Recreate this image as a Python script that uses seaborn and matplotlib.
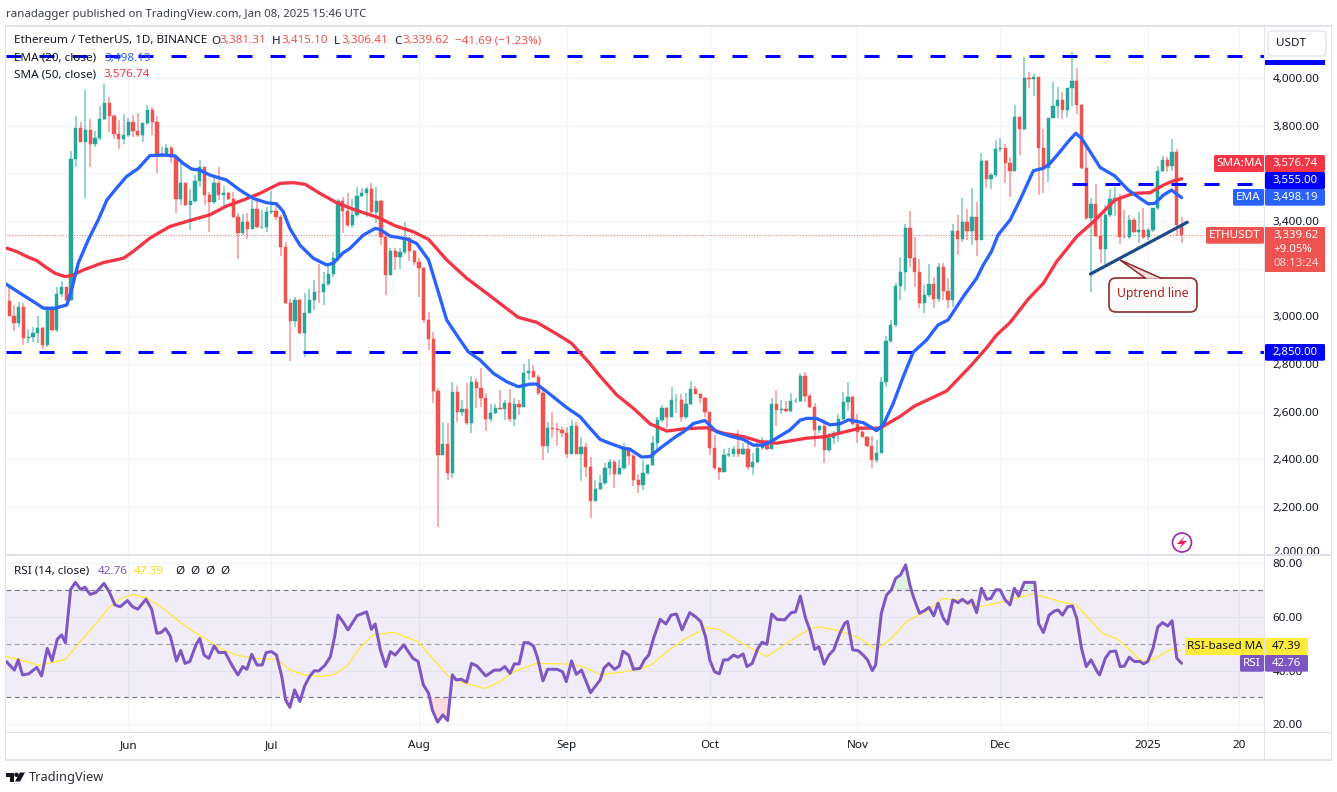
import numpy as np
import pandas as pd
import seaborn as sns
import matplotlib
matplotlib.use("Agg")
import matplotlib.pyplot as plt
from matplotlib.patches import Rectangle, FancyBboxPatch, Polygon, Circle
from matplotlib.transforms import Affine2D

# ---------- data ----------
opens = [3065,3002,2971,3038,2911,2914,2929,2953,2880,3037,2943,3094,3122,3069,3659,3789,3733,3782,3723,3747,
3827,3894,3841,3765,3744,3761,3817,3779,3761,3810,3866,3814,3674,3680,3705,3667,3493,3558,3467,3484,
3568,3625,3509,3481,3561,3509,3516,3491,3415,3351,3394,3367,3449,3374,3375,3439,3442,3416,3293,3055,
2982,3069,2929,3016,3069,3102,3101,3136,3178,3243,3485,3443,3383,3425,3505,3519,3534,3439,3484,3335,
3174,3274,3248,3271,3330,3274,3230,3201,2985,2904,2688,2419,2465,2345,2682,2600,2610,2551,2723,2701,
2659,2570,2593,2614,2612,2635,2570,2631,2621,2761,2771,2744,2680,2456,2530,2527,2525,2512,2423,2540,
2423,2451,2370,2227,2275,2300,2363,2388,2339,2363,2446,2414,2314,2293,2342,2377,2467,2565,2617,2579,
2648,2651,2579,2632,2694,2676,2659,2600,2449,2363,2349,2419,2421,2444,2421,2444,2370,2389,2446,2477,
2442,2631,2607,2610,2604,2645,2646,2750,2667,2619,2524,2540,2440,2489,2510,2568,2641,2661,2547,2517,
2496,2456,2398,2426,2724,2897,2964,3128,3185,3372,3244,3188,3058,3090,3135,3073,3206,3108,3069,3358,
3325,3395,3360,3416,3320,3652,3576,3593,3701,3706,3642,3611,3835,3785,3999,3996,4003,3708,3621,3831,
3883,3908,3866,3957,3987,3887,3621,3411,3472,3337,3281,3425,3492,3497,3335,3332,3404,3356,3362,3335,
3362,3453,3611,3656,3631,3688,3381.31]
closes = [3002,2971,3038,2911,2914,2929,2953,2880,3037,2943,3094,3122,3069,3659,3789,3733,3782,3723,3747,3827,
3894,3841,3765,3744,3761,3817,3779,3761,3810,3866,3814,3674,3680,3705,3667,3493,3558,3467,3484,3568,
3625,3509,3481,3561,3509,3516,3491,3415,3351,3394,3367,3449,3374,3375,3439,3442,3416,3293,3055,2982,
3069,2929,3016,3069,3102,3101,3136,3178,3243,3485,3443,3383,3425,3505,3519,3534,3439,3484,3335,3174,
3274,3248,3271,3330,3274,3230,3201,2985,2904,2688,2419,2465,2345,2682,2600,2610,2551,2723,2701,2659,
2570,2593,2614,2612,2635,2570,2631,2621,2761,2771,2744,2680,2456,2530,2527,2525,2512,2423,2540,2423,
2451,2370,2227,2275,2300,2363,2388,2339,2363,2446,2414,2314,2293,2342,2377,2467,2565,2617,2579,2648,
2651,2579,2632,2694,2676,2659,2600,2449,2363,2349,2419,2421,2444,2421,2444,2370,2389,2446,2477,2442,
2631,2607,2610,2604,2645,2646,2750,2667,2619,2524,2540,2440,2489,2510,2568,2641,2661,2547,2517,2496,
2456,2398,2426,2724,2897,2964,3128,3185,3372,3244,3188,3058,3090,3135,3073,3206,3108,3069,3358,3325,
3395,3360,3416,3320,3652,3576,3593,3701,3706,3642,3611,3835,3785,3999,3996,4003,3708,3621,3831,3883,
3908,3866,3957,3987,3887,3621,3411,3472,3337,3281,3425,3492,3497,3335,3332,3404,3356,3362,3335,3362,
3453,3611,3656,3631,3688,3381.31,3339.62]
highs = [3132,3048,3059,3055,2946,2954,3000,2957,3044,3044,3125,3148,3125,3694,3841,3817,3950,3827,3778,3883,
3975,3922,3850,3824,3849,3831,3845,3852,3813,3887,3877,3841,3709,3723,3715,3670,3650,3561,3533,3593,
3656,3628,3523,3586,3625,3547,3520,3523,3435,3429,3435,3488,3488,3446,3460,3526,3463,3425,3313,3072,
3080,3072,3097,3113,3153,3220,3188,3216,3270,3491,3502,3516,3491,3544,3537,3544,3561,3541,3488,3341,
3285,3285,3285,3397,3335,3278,3243,3206,3017,2936,2698,2556,2551,2726,2708,2650,2719,2750,2740,2782,
2677,2631,2631,2691,2650,2694,2656,2650,2800,2821,2796,2754,2698,2558,2598,2551,2535,2537,2565,2556,
2493,2468,2409,2314,2335,2384,2402,2398,2398,2467,2453,2421,2339,2398,2381,2498,2579,2627,2621,2702,
2673,2674,2677,2728,2708,2680,2663,2600,2502,2367,2442,2446,2456,2523,2467,2488,2426,2479,2493,2481,
2656,2691,2649,2646,2677,2656,2761,2768,2675,2635,2545,2568,2510,2521,2591,2684,2723,2666,2591,2538,
2498,2498,2482,2745,2918,2985,3139,3250,3388,3442,3334,3240,3132,3220,3164,3223,3223,3160,3388,3425,
3495,3449,3540,3480,3684,3656,3602,3740,3747,3722,3670,3887,3835,4087,4024,4017,4005,3785,3831,3985,
3964,3943,3957,4110,4040,3891,3715,3495,3556,3432,3467,3534,3544,3513,3447,3425,3411,3439,3453,3369,
3453,3631,3673,3670,3744,3701,3415.10]
lows = [3000,2940,2954,2880,2890,2894,2887,2865,2870,2940,2935,3083,3066,3066,3628,3730,3498,3628,3709,3740,
3824,3775,3743,3704,3723,3754,3754,3754,3733,3803,3761,3603,3668,3673,3645,3435,3467,3463,3363,3477,
3544,3467,3355,3470,3488,3449,3488,3411,3241,3341,3325,3365,3369,3368,3355,3430,3404,3253,3052,2814,
2957,2926,2828,3014,3027,3058,3048,3127,3167,3234,3348,3373,3369,3415,3500,3415,3435,3393,3300,3090,
3174,3195,3197,3262,3234,3216,3083,2971,2859,2635,2115,2418,2314,2321,2558,2580,2544,2512,2614,2621,
2521,2558,2591,2607,2565,2558,2540,2586,2621,2733,2740,2670,2398,2426,2490,2456,2496,2405,2423,2421,
2311,2325,2156,2227,2272,2293,2335,2279,2335,2356,2377,2289,2258,2272,2335,2372,2442,2558,2530,2577,
2596,2558,2568,2628,2673,2635,2577,2419,2356,2314,2347,2412,2412,2412,2419,2356,2335,2384,2439,2439,
2451,2540,2590,2600,2600,2638,2642,2642,2614,2454,2512,2387,2433,2465,2475,2566,2605,2545,2470,2493,
2451,2363,2387,2426,2703,2890,2957,3069,3108,3209,3122,3034,3016,3083,3037,3062,3069,3034,3038,3258,
3314,3320,3300,3253,3320,3537,3533,3586,3691,3561,3502,3611,3677,3782,3957,3925,3509,3516,3565,3831,
3831,3827,3835,3883,3849,3617,3404,3104,3334,3223,3220,3418,3421,3304,3327,3324,3348,3309,3323,3320,
3355,3446,3607,3607,3611,3337,3306.41]

ema_days = [-0.7,2.3,5.1,7.2,9.6,12.1,13.1,14.5,16.6,18.7,20.5,22.2,24.6,27.1,29.5,32.3,34.8,36.5,38.3,40,42.1,45.6,48.4,51.2,54,56.1,57.5,58.9,61,63.8,66.6,68,70.1,71.5,74.3,76.8,77.8,79.9,83.4,85.5,88,89.7,91.8,93.9,96.3,98.8,101.6,104.4,106.8,109.3,110.7,112.8,117,119.8,121.9,124,126.1,128.9,130.3,132.7,134.5,136.6,139.7,141.5,143.6,146,148.4,151.2,154,156.1,158.2,160,163.8,166,167.3,169.4,172.2,174.3,176.1,179.2,182,183.4,185.5,187.6,189.7,192.5,194.9,197,200.2,203,204.4,206.1,207.5,210,212.1,214.9,217,218.4,220.5,222.2,223.8,225,226.8,228.9,232,234.8,237.3,239,240.4,242.2,243.9,245,246]
ema_values = [3136,3097,3062,3034,3034,3048,3111,3223,3321,3405,3488,3530,3586,3621,3674,3677,3673,3642,3618,3614,3593,3572,3530,3495,3477,3472,3440,3369,3299,3244,3216,3223,3267,3285,3341,3369,3365,3337,3325,3306,3237,3125,2985,2922,2852,2817,2761,2726,2705,2716,2716,2684,2617,2579,2530,2484,2467,2447,2442,2410,2412,2447,2493,2516,2551,2563,2516,2498,2484,2460,2460,2477,2523,2565,2572,2572,2545,2549,2566,2554,2521,2545,2635,2747,2850,2901,2964,2985,3083,3160,3216,3272,3342,3404,3488,3611,3621,3642,3691,3733,3768,3747,3691,3625,3589,3530,3495,3472,3474,3509,3530,3513,3498.19]
sma_days = [-0.5,1.6,3.7,5.8,7.5,9.6,11.7,13.1,15.6,19.8,24,26,29.5,33.7,37.9,42.1,45.6,49.1,52.6,56.8,59.6,62.1,65.2,68.7,72.5,77.5,81,84.8,88,91.8,96,100.2,106.8,110.7,114.9,118,121.5,124,127.5,131,134.5,138,141.5,146.3,149.8,154,157.5,161,167.3,171.5,175,178.5,182.7,186.9,190,196.7,201.6,205,207.2,210,213.8,217,219.8,224,227.5,232,235.9,239.4,242.2,244.7,246]
sma_values = [3286,3272,3251,3234,3209,3181,3167,3171,3195,3226,3244,3272,3328,3377,3402,3426,3463,3488,3516,3558,3561,3554,3516,3477,3447,3414,3380,3355,3323,3237,3160,3097,2996,2975,2926,2887,2810,2749,2670,2614,2549,2519,2528,2533,2510,2496,2475,2468,2489,2496,2514,2531,2531,2580,2624,2687,2789,2866,2922,2974,3072,3139,3230,3335,3397,3488,3516,3519,3551,3572,3576.74]

rsi_days = [-0.6,1.1,1.9,2.8,4.1,5.8,6.8,8,9,10.1,11,11.8,12.9,13.9,15,15.9,17,18.2,19.9,21,22.2,23.3,24.8,25.9,27,28.7,29.9,31,31.9,32.8,33.8,35.1,36,36.9,37.9,39.2,40,40.9,41.9,43,44,45.3,46.9,48,49,49.9,50.9,52,53.1,53.9,55,56.1,57.2,58,58.9,59.9,61,62,63.1,64,65,66.3,67.4,68.3,69,70,71.1,73,75,76,76.8,77.9,79,80,81,82.8,84.7,85.8,86.9,88,88.8,89.9,91,92,93,93.8,94.8,96,97,98.2,100,101.8,103,104,105.1,106,107,108,109,110,110.8,112,113,115,116.1,116.9,118,119,120.1,122,124,124.8,125.8,127,128,128.8,130,131,132.4,133.3,134.2,135.2,136.6,137.8,138.9,140,141.2,142.8,144,145.1,146.1,147,148,149,149.9,150.8,152,152.9,154,154.8,155.9,157.1,158,159,160,161.1,162.7,164.1,165,166,167.1,168,169,169.9,171,172,173,174.3,175.3,175.9,177,178.1,179.2,180.1,181.1,181.8,183,184.1,185.1,186,187,188.1,189,189.7,191,192.1,193,194,194.9,196,196.9,198,199.1,200,201.1,202,203,204,205.1,206,207,207.9,209,210,210.9,211.8,213,215.2,216,217,218.2,219.3,220.1,221,222.1,223.1,224,225,226,227,228.3,228.8,230,231,232.2,233.1,234,235,236.1,237.3,238,238.9,240,241,242,243.1,244,245,246]
rsi_values = [43.4,40.2,44,38.4,38.8,41.2,38,48.3,43.7,51.7,53.3,50.4,70.3,72.9,70.3,71.1,68.4,69.1,72.5,69.4,64.5,63.8,66.1,63.8,62.9,66.6,62.9,53.9,54.2,55.7,52.9,43.6,47.5,42.7,43.4,49.6,52,45.8,44.6,49.2,46.7,46.8,41.5,38.4,41.5,40.5,46.1,42.1,42.1,46.7,47.1,45.8,37.8,29.1,26.3,32.8,28.5,34.3,38,39.9,39.9,42.1,45.2,52.7,60.7,58.3,55.2,60.5,61.9,55.4,57.4,47.7,41.5,47.1,45.8,49.6,44.6,43.4,34.7,31.6,25.3,20.8,23.5,21.4,38.4,36.5,36.8,35.7,42.7,41.7,38,40.2,40.2,41.5,39,42.5,42.5,50.4,50.4,49.2,45.2,36.2,40.5,40.5,39.6,35.9,43.6,38.6,40.2,31.8,36.5,40.9,42.7,40.5,41.7,47.2,45.8,40.5,40.9,44,45.8,52,59.1,57.4,60.7,61.1,55.2,61.6,60.1,58.3,52.7,44,39.6,38.8,44,44,45.8,45,46.2,41.5,42.7,48.3,50.6,49.8,61.1,59.1,58.9,61.6,61.9,67.8,59.5,55.2,47.9,48.9,42.4,45.8,47.7,53.9,57.6,58.3,47.7,47.5,45.8,44,40,42.1,61.4,68.2,70.1,74.4,75.6,79.4,71.9,67.6,61.4,62.4,63.6,60.4,65.1,59.5,57.4,66.3,65.3,66.6,65.1,66.3,61.6,70.7,66.6,66.9,70.1,70.1,66.3,64.5,70.7,67.8,72.9,72.9,57.6,54.2,60.7,62.2,62.6,60.7,63.8,64.1,59.5,48.3,41.5,44,39.6,38.4,44.6,47.1,47.3,41.5,41.7,45,43.4,43.4,42.5,43.4,48.3,56.2,57.9,56.6,58.6,44.6,42.76]
rsi_ma_days = [-0.6,2.4,6.2,11.8,15.2,18.6,20.8,23.3,25.9,28.9,32.3,35.7,38.7,41.7,44.3,47.7,51.1,56.2,58.8,61.8,65.7,68.2,70.8,73.8,76.4,80.6,85.8,88.8,92.2,95.6,99.9,102.9,105.9,110.6,117.8,120.4,123.8,128.1,132,134.7,138,141.7,146.4,149.2,153.8,159,163.1,167.8,169.9,174.3,178.1,182,185.1,188.3,193,195.8,199.5,203,207,209.8,214.9,221.9,223.8,229.4,232.6,237.8,240.6,243.8,246]
rsi_ma_values = [45.2,44,41.9,44.2,51.4,58.3,63.2,66.6,68.4,67.2,63.2,58.3,54.5,51.4,48.3,45.8,44.6,44.2,40.5,38.4,37.8,38.6,41.5,48.9,53.3,54.3,50.8,44.6,37.8,35.3,33.4,35.9,39.6,42.7,42.4,41.5,38.6,39.3,40.5,42.1,47.1,51.7,56,55.2,50.2,45.2,50.2,55.4,56.4,54.8,52.4,47.9,52,58.3,62.6,66.9,66.3,63.6,65.1,66.3,68.6,65.1,64.7,53.9,51.7,43.4,44.6,48,47.39]

month_days = [25,55,86,117,147,178,208,239,258]
month_labels = ["Jun","Jul","Aug","Sep","Oct","Nov","Dec","2025","20"]
price_ticks = [2000,2200,2400,2600,2800,3000,3200,3400,3600,3800,4000]
hidden_price_labels = [2000,3200,3600]
rsi_ticks = [20,40,60,80]
level_prices = [4092,2850]
short_level = 3555
trend_days = [226.9,247.2]
trend_prices = [3178,3395]

# ---------- style ----------
W, H = 1337, 792
sns.set_theme(style="white")
plt.rcParams["font.family"] = ["Noto Sans", "DejaVu Sans"]
GREEN, RED = "#26a69a", "#ef5350"
INK = "#131722"
GRID = "#f0f3fa"
EDGE = "#e0e3eb"
BLUE = "#2962ff"
SMA_RED = "#f23645"
PURPLE = "#7e57c2"
LEVEL = "#0000ff"
px = 0.72
DASH = (0, (5, 6))

fig = plt.figure(figsize=(W/100, H/100), dpi=100, facecolor="white")
PX = Affine2D().scale(1, -1).translate(0, H)

def rect(x0, y0, x1, y1, color, z=5):
    fig.add_artist(Rectangle((x0, y0), x1-x0, y1-y0, transform=PX, facecolor=color, edgecolor="none", zorder=z))

def label(x, y, s, color=INK, size=8.4, ha="left", z=8, **kw):
    fig.text(x/W, 1-y/H, s, color=color, fontsize=size, ha=ha, va="center", zorder=z, **kw)

L, R, T, M, B = 6, 1264.5, 27, 555, 732.3
ax = fig.add_axes([L/W, 1-M/H, (R-L)/W, (M-T)/H])
ar = fig.add_axes([L/W, 1-B/H, (R-L)/W, (B-M)/H], sharex=ax)

day0, day_px = 9.15, 4.766
xlim = ((L-day0)/day_px, (R-day0)/day_px)
ax.set_xlim(*xlim)
ax.set_ylim(4000-(M-78)*4.195, 4000+(78-T)*4.195)
ar.set_ylim(80-(B-563.3)/2.683, 80+(563.3-M)/2.683)

for a in (ax, ar):
    for s in a.spines.values():
        s.set_visible(False)
    a.set_facecolor("white")
    a.set_axisbelow(True)
    a.grid(True, color=GRID, lw=1.3*px)
    a.yaxis.tick_right()

# ---------- price pane ----------
df = pd.DataFrame(dict(o=opens, h=highs, l=lows, c=closes))
df["day"] = np.arange(len(df))
df["col"] = np.where(df.c >= df.o, GREEN, RED)
ax.axhline(closes[-1], color=RED, lw=0.9*px, ls=(0, (1, 2)), zorder=1)
ax.vlines(df.day, df.l, df.h, colors=df.col, lw=1.5*px, alpha=0.62, zorder=2)
ax.bar(df.day, (df.c-df.o).abs(), bottom=df[["o", "c"]].min(axis=1), width=0.68, color=df.col,
       edgecolor=df.col, linewidth=0.35, zorder=3)

for p in level_prices:
    ax.hlines(p, xlim[0], xlim[1], color=LEVEL, lw=3*px, linestyles=[DASH], zorder=4)
ax.hlines(short_level, (1072-day0)/day_px, (1255-day0)/day_px, color=LEVEL, lw=3*px, linestyles=[DASH], zorder=4)

sns.lineplot(x=sma_days, y=sma_values, ax=ax, color=SMA_RED, linewidth=3.3*px, errorbar=None, zorder=5, solid_joinstyle="round")
sns.lineplot(x=ema_days, y=ema_values, ax=ax, color=BLUE, linewidth=3.3*px, errorbar=None, zorder=6, solid_joinstyle="round")
sns.lineplot(x=trend_days, y=trend_prices, ax=ax, color="#1b4b8a", linewidth=3.2*px, errorbar=None, zorder=7)

ax.set_yticks(price_ticks)
ax.set_yticklabels(["" if t in hidden_price_labels else f"{t:,.2f}" for t in price_ticks])
ax.tick_params(axis="y", length=0, pad=6, labelsize=8.4, labelcolor=INK, labelright=True, labelleft=False)
ax.tick_params(axis="x", length=0, labelbottom=False)
ax.set_xticks(month_days)
ax.set_xlabel(""); ax.set_ylabel("")

# ---------- RSI pane ----------
rd = np.array(rsi_days); rv = np.array(rsi_values)
ar.axhspan(30, 70, color=PURPLE, alpha=0.1, lw=0, zorder=1)
ar.fill_between(rd, 70, rv, where=rv > 70, interpolate=True, color="#c8e6c9", alpha=0.55, lw=0, zorder=1.5)
ar.fill_between(rd, 30, rv, where=rv < 30, interpolate=True, color="#ffcdd2", alpha=0.75, lw=0, zorder=1.5)
for lv, col in ((70, "#787b86"), (50, "#a3a6af"), (30, "#787b86")):
    ar.axhline(lv, color=col, lw=1.2*px, ls=(0, (4, 3)), zorder=2)
sns.lineplot(x=rsi_ma_days, y=rsi_ma_values, ax=ar, color="#ffeb3b", linewidth=1.3*px, errorbar=None, zorder=3)
sns.lineplot(x=rsi_days, y=rsi_values, ax=ar, color=PURPLE, linewidth=3*px, errorbar=None, zorder=4, solid_joinstyle="round")
ar.set_yticks(rsi_ticks)
ar.set_yticklabels([f"{t:.2f}" for t in rsi_ticks])
ar.tick_params(axis="y", length=0, pad=6, labelsize=8.4, labelcolor=INK, labelright=True, labelleft=False)
ar.set_xticks(month_days)
ar.set_xticklabels(month_labels)
ar.tick_params(axis="x", length=0, pad=5.8, labelsize=8.4, labelcolor=INK, labelbottom=True)
ar.get_xticklabels()[7].set_fontweight("bold")
ar.set_xlabel(""); ar.set_ylabel("")

# ---------- frame ----------
label(1273, 552, "2,000.00", z=0.5)
rect(1265, 555.5, 1331, 558.5, "white", z=1)
for (x0, y0, x1, y1) in [(5, 25, 1332, 26.5), (5, 759, 1332, 760.5), (5, 25, 6.2, 760.5), (1330.5, 25, 1332, 760.5),
                         (5, 554.2, 1332, 555.8), (5, 731.8, 1332, 733), (1264.2, 25, 1265.4, 760)]:
    rect(x0, y0, x1, y1, EDGE, z=2)

# ---------- tags on the scale ----------
def tag(y0, y1, x0, x1, col, txt, txtcol="white", z=6, **kw):
    fig.add_artist(FancyBboxPatch((x0+1, y0+1), x1-x0-2, y1-y0-2, boxstyle="round,pad=1,rounding_size=1.5",
                                  transform=PX, facecolor=col, edgecolor="none", zorder=z))
    label((x0+x1)/2, (y0+y1)/2, txt, color=txtcol, ha="center", z=z+1, **kw)

rect(1265, 60, 1325, 65, LEVEL, z=5)
tag(155, 172, 1214, 1264, SMA_RED, "SMA:MA")
tag(155, 172, 1265, 1325, SMA_RED, "3,576.74", z=5, size=8.2)
tag(172, 189, 1265, 1325, LEVEL, "3,555.00", size=8.2)
tag(189, 205.7, 1233, 1264, BLUE, "EMA")
tag(189, 205.7, 1265, 1325, BLUE, "3,498.19", size=8.2)
tag(227, 243.7, 1206, 1264, RED, "ETHUSDT")
rect(1265, 227, 1325, 271.7, RED, z=6)
label(1273, 235.5, "3,339.62", color="white", size=8.2)
label(1273, 249.5, "+9.05%", color="white", size=8.2)
label(1273, 263.5, "08:13:24", color="#fbd5d4", size=8.2)
tag(344, 360.7, 1265, 1325, LEVEL, "2,850.00", size=8.2)
tag(638, 655, 1185, 1264, "#ffeb3b", "RSI-based MA", txtcol=INK)
tag(638, 655, 1265, 1308, "#ffeb3b", "47.39", txtcol=INK, size=8.2)
tag(655, 671.7, 1240, 1264, PURPLE, "RSI")
tag(655, 671.7, 1265, 1308, PURPLE, "42.76", size=8.2)

fig.add_artist(FancyBboxPatch((1269, 32), 56, 23, boxstyle="round,pad=1,rounding_size=4", transform=PX,
                              facecolor="white", edgecolor=EDGE, lw=1, zorder=7))
label(1291, 44, "USDT", ha="center", z=8)

# ---------- header texts ----------
label(6, 14, "ranadagger published on TradingView.com, Jan 08, 2025 15:46 UTC", color="#3a3e4a", size=8.2)
label(14, 41, "Ethereum / TetherUS, 1D, BINANCE", size=8.4)
for x, s in [(211, "O"), (272, "H"), (334, "L"), (394, "C")]:
    label(x, 41, s, size=8.4)
for x, s in [(219, "3,381.31"), (281, "3,415.10"), (341, "3,306.41"), (402, "3,339.62"), (455, "−41.69 (−1.23%)")]:
    label(x, 41, s, color=RED, size=8.4)
label(14, 58, "EMA (20, close)", size=8.4)
label(104, 58, "3,498.19", color=BLUE, size=8.4)
label(14, 75, "SMA (50, close)", size=8.4)
label(103, 75, "3,576.74", color=SMA_RED, size=8.4)
label(14, 571, "RSI (14, close)", size=8.4)
label(98, 571, "42.76", color=PURPLE, size=8.4)
label(134, 571, "47.39", color="#f7d914", size=8.4)
for x in (175, 190, 205, 220):
    label(x, 571, "Ø", size=8.4)

# ---------- call-out ----------
DARKRED = "#8e2a2a"
fig.add_artist(FancyBboxPatch((1114, 283), 78, 24, boxstyle="round,pad=5,rounding_size=7", transform=PX,
                              facecolor="#fffafa", edgecolor=DARKRED, lw=1.2, zorder=7))
fig.add_artist(Polygon([(1146, 278.6), (1120, 260), (1162, 278.6)], closed=False, transform=PX,
                       facecolor="#f6dede", edgecolor=DARKRED, lw=1.1, zorder=7.5))
label(1152.5, 294, "Uptrend line", color="#a82424", ha="center", size=8.8, z=9)

# ---------- small marks ----------
fig.add_artist(Circle((1182, 542.5), 9.5, transform=PX, facecolor="white", edgecolor="#9c27b0", lw=1.2, zorder=6))
fig.add_artist(Polygon([(1185, 536), (1177, 544), (1182, 544), (1179, 549), (1187, 541), (1182, 541)], transform=PX,
                       facecolor="#e91e63", edgecolor="none", zorder=7))

# TradingView mark
fig.add_artist(Polygon([(6, 772.5), (14, 772.5), (14, 781.5), (10, 781.5), (10, 776.5), (6, 776.5)], transform=PX, facecolor=INK, edgecolor="none", zorder=6))
fig.add_artist(Circle((16.5, 774.8), 2.2, transform=PX, facecolor=INK, edgecolor="none", zorder=6))
fig.add_artist(Polygon([(20, 772.5), (25, 772.5), (20, 781.5), (15, 781.5)], transform=PX, facecolor=INK, edgecolor="none", zorder=6))
label(29, 777, "TradingView", color="#2a2e39", size=9.2)

fig.savefig("out.png", dpi=100, facecolor="white")
